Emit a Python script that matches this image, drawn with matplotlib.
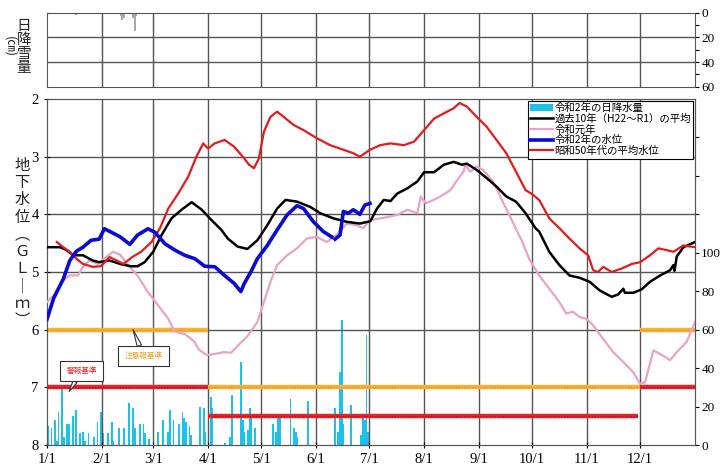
import numpy as np
import matplotlib
matplotlib.use("Agg")
import matplotlib.pyplot as plt

plt.rcParams['font.family'] = ['Liberation Serif', 'Noto Sans CJK JP', 'DejaVu Sans']

# ---------------- data ----------------
month_days = [0, 31, 60, 91, 121, 152, 182, 213, 244, 274, 305, 335]
month_labels = ['1/1', '2/1', '3/1', '4/1', '5/1', '6/1', '7/1', '8/1', '9/1', '10/1', '11/1', '12/1']

# 令和2年の水位 (GL-m), gap in mid June
blue_day = [0, 3.7, 9.2, 12.9, 16.6, 20.3, 24.9, 29.5, 32.4, 36.3, 41.3, 46.8, 51.1, 57, 60.9, 66.6,
            72.2, 77.8, 83.5, 89.1, 94.8, 100.3, 105.8, 109.5, 111.4, 115.1, 118.8, 124.4, 130, 135.6,
            141.2, 144.9, 150.5, 156.1, 160.8, 161.8,
            162.7, 165.5, 167.4, 170.2, 173, 176.7, 179.5, 182.4]
blue_lvl = [5.82, 5.46, 5.12, 4.80, 4.64, 4.57, 4.45, 4.43, 4.25, 4.31, 4.39, 4.52, 4.36, 4.25, 4.31, 4.51,
            4.62, 4.71, 4.77, 4.90, 4.91, 5.06, 5.20, 5.34, 5.20, 5.00, 4.77, 4.54, 4.27, 4.01,
            3.85, 3.90, 4.13, 4.30, 4.39, np.nan,
            4.43, 4.36, 3.95, 3.98, 3.92, 4.00, 3.84, 3.81]

# 過去10年（H22～R1）の平均
black_day = [0, 7.4, 11.1, 14.8, 20.3, 25.8, 29.5, 35.3, 41.3, 47.2, 51.1, 55.1, 60, 64.7, 70.3, 76,
             81.7, 87.4, 92.9, 98.5, 102.1, 107.7, 113.2, 118.8, 124.4, 130, 134.7, 141.2, 148.6, 154.3,
             161.8, 169.3, 176.7, 182.6, 186.4, 190.2, 194, 197.8, 203.5, 209.2, 213, 218.6, 224.1, 229.7,
             234.3, 237.1, 242.7, 248.3, 253.9, 259.4, 264.9, 270.3, 275.9, 278, 283.7, 289.4, 295.1,
             300.8, 306.5, 312.2, 318.9, 322.6, 325.5, 326.4, 331.2, 335.9, 340.6, 346.3, 351.9, 353.8,
             354.4, 355.7, 359.5, 366]
black_lvl = [4.57, 4.57, 4.62, 4.71, 4.71, 4.80, 4.83, 4.80, 4.86, 4.90, 4.90, 4.83, 4.65, 4.36, 4.07, 3.92,
             3.79, 3.92, 4.10, 4.27, 4.42, 4.56, 4.60, 4.45, 4.19, 3.90, 3.75, 3.78, 3.87, 3.98,
             4.07, 4.13, 4.16, 4.12, 3.90, 3.75, 3.77, 3.64, 3.55, 3.43, 3.27, 3.27, 3.14, 3.09,
             3.14, 3.12, 3.23, 3.37, 3.52, 3.69, 3.78, 3.98, 4.24, 4.30, 4.65, 4.88, 5.06,
             5.10, 5.17, 5.32, 5.43, 5.39, 5.29, 5.36, 5.36, 5.30, 5.17, 5.06, 4.97, 4.88,
             4.98, 4.73, 4.57, 4.48]

# 令和元年
pink_day = [0, 3.7, 9.2, 12.9, 17.5, 20.3, 24, 28.6, 33.4, 37.3, 41.3, 45.2, 51.1, 57, 62.8, 68.5, 72,
            78, 83, 86, 90.2, 95, 99.6, 104, 109, 113, 118.8, 122.5, 126.2, 130, 135.6, 141.2, 146.8,
            152.4, 158, 163.6, 169.3, 174.9, 178.6, 182.5, 190.2, 197.8, 203.5, 209.2, 211.1, 213.9,
            220.5, 227.9, 231.6, 235.3, 236.2, 239, 242.7, 246.4, 251.9, 257.4, 263, 268.5, 272.3, 278,
            283.7, 289.4, 293.2, 297, 300.8, 304.6, 308.4, 314.1, 319.8, 325.5, 331.2, 335, 337.8,
            342.5, 346.3, 351.9, 355.7, 361.3, 366]
pink_lvl = [5.52, 5.41, 5.14, 5.06, 5.06, 4.91, 4.80, 4.86, 4.74, 4.65, 4.70, 4.86, 5.06, 5.35, 5.58, 5.81, 6.03,
            6.08, 6.20, 6.35, 6.44, 6.42, 6.39, 6.40, 6.24, 6.12, 5.87, 5.52, 5.17, 4.88, 4.71, 4.59, 4.42,
            4.39, 4.48, 4.36, 4.16, 4.19, 4.24, 4.10, 4.06, 4.01, 3.92, 3.98, 3.69, 3.81,
            3.72, 3.58, 3.41, 3.26, 3.14, 3.26, 3.17, 3.23, 3.43, 3.78, 4.13, 4.48, 4.77, 5.06,
            5.29, 5.52, 5.72, 5.69, 5.78, 5.81, 5.92, 6.16, 6.39, 6.56, 6.74, 6.94, 6.91,
            6.36, 6.42, 6.53, 6.39, 6.21, 5.87]

# 昭和50年代の平均水位
red_day = [5.5, 9.2, 12.9, 16.6, 20.3, 25.8, 30.4, 35.3, 39.3, 43.2, 48.2, 53.1, 59, 63.8, 68.5, 74.1,
           79.7, 84.4, 88.2, 91, 94.7, 100.3, 105.8, 111.4, 114.1, 116.9, 119.7, 122.5, 126.2, 130,
           133.7, 139.3, 144.9, 152.4, 159.9, 167.4, 173, 176.7, 182.4, 188.3, 194, 201.6, 207.3, 213,
           218.6, 224.1, 229.7, 233, 237.1, 242.7, 248.3, 253.9, 259.4, 264.9, 270.3, 274, 278, 283.7,
           289.4, 295.1, 300.8, 305.6, 308.5, 311.3, 314.2, 318.9, 324.6, 330.3, 335, 340.6, 345.3,
           350, 353.8, 359.4, 366]
red_lvl = [4.48, 4.57, 4.65, 4.77, 4.86, 4.91, 4.90, 4.74, 4.80, 4.86, 4.74, 4.65, 4.48, 4.24, 3.90, 3.64,
           3.35, 3.00, 2.77, 2.86, 2.77, 2.71, 2.83, 3.03, 3.14, 3.20, 3.03, 2.57, 2.31, 2.22,
           2.31, 2.45, 2.54, 2.68, 2.80, 2.88, 2.94, 3.00, 2.88, 2.80, 2.77, 2.80, 2.74, 2.54,
           2.34, 2.25, 2.16, 2.07, 2.13, 2.31, 2.48, 2.71, 2.94, 3.26, 3.58, 3.65, 3.75, 4.07,
           4.24, 4.42, 4.59, 4.71, 4.97, 5.00, 4.91, 5.00, 4.94, 4.86, 4.83, 4.71, 4.59,
           4.62, 4.65, 4.54, 4.57]

# 令和2年の日降水量 (mm)
rain_day = [0, 2, 4, 5, 6, 8, 9, 11, 12, 14, 16, 18, 20, 21, 23, 26, 28, 30, 31, 34, 36, 37, 40, 43,
            46, 48, 49, 52, 54, 55, 57, 62, 65, 68, 69, 71, 74, 76, 77, 78, 80, 81, 86, 88, 89,
            92, 93, 100, 103, 104, 109, 110, 111, 113, 114, 115, 117, 127, 129, 130, 131, 137, 139,
            140, 141, 147, 162, 164, 165, 166, 167, 171, 177, 178, 179, 180, 181]
rain_mm = [10, 9, 13, 2, 17, 29, 4, 11, 11, 15, 18, 6, 7, 2, 6, 4, 12, 17, 6, 6, 12, 2, 9, 9,
           22, 19, 9, 11, 11, 6, 3, 7, 13, 7, 18, 13, 11, 17, 14, 12, 10, 5, 20, 19, 7,
           25, 19, 1, 4, 26, 43, 13, 7, 8, 19, 16, 9, 11, 7, 14, 15, 24, 9,
           7, 4, 23, 19, 7, 38, 65, 11, 21, 5, 14, 13, 57, 7]

# 日降雪量 (cm)
snow_day = [16, 40, 41, 42, 43, 48, 49, 50]
snow_cm = [2, 1, 3, 6, 4, 4, 15, 3]

# 基準線
warn_x = [[0, 91], [91, 334], [335, 366]]
warn_y = [7.0, 7.5, 7.0]
caution_x = [[0, 91], [91, 335], [335, 366]]
caution_y = [6.0, 7.0, 6.0]

# ---------------- figure ----------------
fig = plt.figure(figsize=(7.2, 4.66), dpi=100)
L, W = 47 / 720, 648 / 720
ax_s = fig.add_axes([L, 1 - 86.7 / 466, W, 74 / 466])
ax = fig.add_axes([L, 1 - 445 / 466, W, 346 / 466])
ax2 = ax.twinx()

grid_c = '#555555'
tick_fs = 10.5
right_fs = 9.5

# snow panel
ax_s.bar(snow_day, snow_cm, width=1.0, color='#a8a8a8', align='edge')
ax_s.set_xlim(0, 366)
ax_s.set_ylim(60, 0)
ax_s.set_xticks(month_days)
ax_s.set_xticklabels([])
ax_s.tick_params(axis='x', length=0)
ax_s.yaxis.tick_right()
ax_s.set_yticks([0, 20, 40, 60])
ax_s.set_yticks([10, 30, 50], minor=True)
ax_s.tick_params(axis='y', which='both', labelsize=right_fs, direction='out', length=3, width=0.8, pad=1.5)
ax_s.tick_params(axis='y', which='minor', length=3)
for d in month_days[1:]:
    ax_s.axvline(d, color=grid_c, lw=1.0, zorder=0)
for v in [20, 40]:
    ax_s.axhline(v, color=grid_c, lw=1.0, zorder=0)
for s in ax_s.spines.values():
    s.set_color(grid_c)

# main panel grid
for d in month_days[1:]:
    ax.axvline(d, color=grid_c, lw=1.0, zorder=0)
for v in [3, 4, 5, 6, 7]:
    ax.axhline(v, color=grid_c, lw=1.0, zorder=0)

# reference lines
for (x0, x1), y in zip(caution_x, caution_y):
    ax.plot([x0, x1], [y, y], color='#f9b233', lw=3.2, solid_capstyle='butt', zorder=2)
    ax.plot([x0, x1], [y, y], color='#e8902a', lw=1.0, ls=(0, (1, 1)), zorder=2)
for (x0, x1), y in zip(warn_x, warn_y):
    ax.plot([x0, x1], [y, y], color='#e8262b', lw=3.2, solid_capstyle='butt', zorder=2)
    ax.plot([x0, x1], [y, y], color='#b01018', lw=1.0, ls=(0, (1, 1)), zorder=2)

# rain bars on right axis
bars = ax2.bar(rain_day, rain_mm, width=1.0, color='#1ec1ea', align='edge', zorder=1,
               label='令和2年の日降水量')
ax2.set_ylim(0, 180)
ax2.set_yticks([0, 20, 40, 60, 80, 100, 120, 140, 160])
ax2.set_yticklabels(['0', '20', '40', '60', '80', '100', '', '', ''])
ax2.tick_params(axis='y', labelsize=right_fs, direction='out', length=3, width=0.8, pad=1.5)

# lines
l_black, = ax.plot(black_day, black_lvl, color='black', lw=1.8, zorder=4, label='過去10年（H22～R1）の平均')
l_pink, = ax.plot(pink_day, pink_lvl, color='#eaa2c6', lw=1.6, zorder=3, label='令和元年')
l_blue, = ax.plot(blue_day, blue_lvl, color='#0a0ad0', lw=2.6, zorder=5, label='令和2年の水位')
l_red, = ax.plot(red_day, red_lvl, color='#e01c1c', lw=1.6, zorder=4, label='昭和50年代の平均水位')

ax.set_zorder(ax2.get_zorder() + 1)
ax.patch.set_visible(False)

ax.set_xlim(0, 366)
ax.set_ylim(8, 2)
ax.set_yticks([2, 3, 4, 5, 6, 7, 8])
ax.set_xticks(month_days)
ax.set_xticklabels(month_labels)
ax.tick_params(axis='both', labelsize=tick_fs, direction='inout', length=5, width=0.8)
for a in (ax, ax2):
    for s in a.spines.values():
        s.set_color(grid_c)

# legend
leg = ax.legend([bars, l_black, l_pink, l_blue, l_red],
                ['令和2年の日降水量', '過去10年（H22～R1）の平均', '令和元年', '令和2年の水位', '昭和50年代の平均水位'],
                loc='upper right', bbox_to_anchor=(1.0, 1.0), borderaxespad=0.15,
                prop={'family': ['Noto Sans CJK JP'], 'size': 7.5},
                labelspacing=0.05, handlelength=2.2, handletextpad=0.1, borderpad=0.25,
                fancybox=False, edgecolor='black', framealpha=1)
leg.get_frame().set_linewidth(0.8)
leg.set_zorder(10)

# callouts
ax.annotate('警報基準', xy=(12.5, 7.07), xytext=(19.5, 6.72), ha='center', va='center',
            fontsize=5.5, color='#e8262b', family=['Noto Sans CJK JP'],
            bbox=dict(boxstyle='square,pad=0.8', fc='white', ec='#333333', lw=0.8),
            arrowprops=dict(arrowstyle='wedge,tail_width=0.6', fc='white', ec='#333333', lw=0.8,
                            shrinkA=0, shrinkB=0), zorder=9)
ax.annotate('注意報基準', xy=(48.6, 6.0), xytext=(54.5, 6.46), ha='center', va='center',
            fontsize=5.5, color='#f0a020', family=['Noto Sans CJK JP'],
            bbox=dict(boxstyle='square,pad=0.8', fc='white', ec='#333333', lw=0.8),
            arrowprops=dict(arrowstyle='wedge,tail_width=0.6', fc='white', ec='#333333', lw=0.8,
                            shrinkA=0, shrinkB=0), zorder=9)

# axis titles (vertical Japanese)
fig.text(22 / 720, 1 - 243 / 466, '地\n下\n水\n位\n︵\nＧ\nＬ\n｜\nｍ\n︶', ha='center', va='center',
         fontsize=11, linespacing=1.02, family=['Noto Sans CJK JP'], color='#222222')
fig.text(24 / 720, 1 - 47 / 466, '日\n降\n雪\n量', ha='center', va='center',
         fontsize=10.5, linespacing=1.0, family=['Noto Sans CJK JP'], color='#222222')
fig.text(10 / 720, 1 - 47 / 466, '(㎝)', ha='center', va='center', rotation=270,
         fontsize=9, family=['Noto Sans CJK JP'], color='#222222')

fig.savefig('out.png', dpi=100)
